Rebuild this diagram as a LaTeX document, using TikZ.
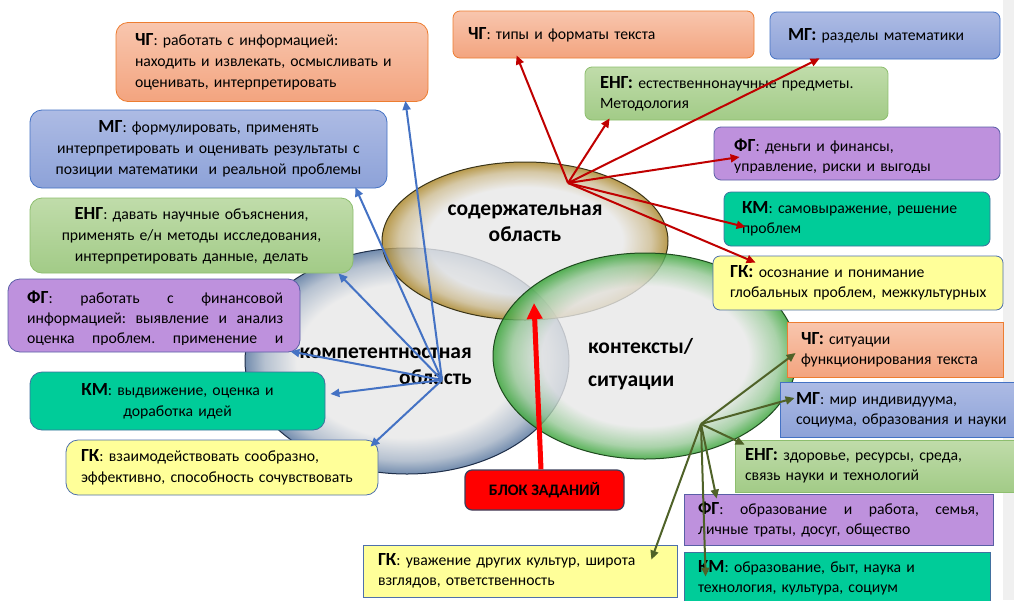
\documentclass[tikz,border=0pt]{standalone}
\usepackage{fontspec}
\setmainfont{Carlito}
\usetikzlibrary{arrows.meta,shapes.geometric}

\definecolor{orTop}{HTML}{F8C6AE}
\definecolor{orBot}{HTML}{F3A47F}
\definecolor{orLine}{HTML}{ED7D31}
\definecolor{blTop}{HTML}{ADBBE4}
\definecolor{blBot}{HTML}{8DA2D8}
\definecolor{blLine}{HTML}{4472C4}
\definecolor{grTop}{HTML}{C0DCAA}
\definecolor{grBot}{HTML}{A2CB87}
\definecolor{grLine}{HTML}{8DBE6E}
\definecolor{puFill}{HTML}{BE91DD}
\definecolor{puLine}{HTML}{5A5FA6}
\definecolor{tlFill}{HTML}{00CC99}
\definecolor{tlLine}{HTML}{41709F}
\definecolor{ywFill}{HTML}{FFFF99}
\definecolor{ywLine}{HTML}{4E70AC}
\definecolor{blockRed}{HTML}{FF0000}
\definecolor{blockLine}{HTML}{3B3F5C}
\definecolor{arBlue}{HTML}{4472C4}
\definecolor{arRed}{HTML}{C00000}
\definecolor{arGreen}{HTML}{4F6228}
\definecolor{bigRed}{HTML}{FF0000}
\definecolor{ellIn}{HTML}{E8E8E8}
\definecolor{goldEdge}{HTML}{A88222}
\definecolor{blueEdge}{HTML}{50709A}
\definecolor{greenEdge}{HTML}{30A030}
\definecolor{goldLine}{HTML}{3A3418}
\definecolor{blueLine}{HTML}{1F2F4A}
\definecolor{greenLine}{HTML}{1F4A1F}
\definecolor{bandGray}{HTML}{F0F0F0}
\colorlet{goldMid}{ellIn!55!goldEdge}
\colorlet{blueMid}{ellIn!55!blueEdge}
\colorlet{greenMid}{ellIn!55!greenEdge}

\pgfdeclareradialshading{goldell}{\pgfpoint{0bp}{0bp}}{color(0bp)=(ellIn); color(17bp)=(ellIn); color(22bp)=(goldMid); color(25bp)=(goldEdge); color(50bp)=(goldEdge)}
\pgfdeclareradialshading{blueell}{\pgfpoint{0bp}{0bp}}{color(0bp)=(ellIn); color(17bp)=(ellIn); color(22bp)=(blueMid); color(25bp)=(blueEdge); color(50bp)=(blueEdge)}
\pgfdeclareradialshading{greenell}{\pgfpoint{0bp}{0bp}}{color(0bp)=(ellIn); color(17bp)=(ellIn); color(22bp)=(greenMid); color(25bp)=(greenEdge); color(50bp)=(greenEdge)}

\newcommand\grp[1]{{\fontsize{18.5}{20}\selectfont\bfseries #1}}

\begin{document}
\begin{tikzpicture}[
    x=1pt, y=-1pt,
    every node/.style={inner sep=0pt},
    box/.style={draw, line width=0.8pt, align=left, font=\fontsize{15.7}{20}\selectfont},
    lbox/.style={box, rounded corners=12pt, font=\fontsize{15.7}{21}\selectfont},
    tbox/.style={box, rounded corners=7pt},
    orbox/.style={top color=orTop, bottom color=orBot, draw=orLine},
    blbox/.style={top color=blTop, bottom color=blBot, draw=blLine},
    grbox/.style={top color=grTop, bottom color=grBot, draw=grLine},
    pubox/.style={fill=puFill, draw=puLine},
    tlbox/.style={fill=tlFill, draw=tlLine},
    ywbox/.style={fill=ywFill, draw=ywLine},
    area/.style={ellipse, draw=#1, line width=1pt, fill opacity=0.8},
    arealabel/.style={font=\fontsize{21.5}{26}\selectfont\bfseries},
    arr/.style={-{Triangle[length=9pt,width=8pt]}, line width=2pt},
    bluearr/.style={arr, draw=arBlue},
    redarr/.style={arr, draw=arRed},
    greenarr/.style={arr, draw=arGreen}
  ]
  \useasboundingbox (0,0) rectangle (1014,600);
  \fill[white] (0,0) rectangle (1014,600);
  \fill[bandGray] (1003,0) rectangle (1014,600);

  % the three areas
  \node[area=blueLine, shade, shading=blueell, minimum width=324pt, minimum height=226pt] (compet) at (407,361) {};
  \node[area=goldLine, shade, shading=goldell, minimum width=286pt, minimum height=158pt] (content) at (525,241) {};
  \node[area=greenLine, shade, shading=greenell, minimum width=304pt, minimum height=206pt] (context) at (645,356) {};

  \node[arealabel, align=center] (contentlbl) at (525,223) {содержательная\\область};
  \node[arealabel, align=right, anchor=east] (competlbl) at (472,366) {компетентностная\\область};
  \node[font=\fontsize{21.5}{33}\selectfont\bfseries, align=left, anchor=west] (contextlbl) at (588,364) {контексты/\\ситуации};

  % competences
  \node[lbox, orbox, minimum width=312pt, minimum height=79pt, text width=274pt] (chgL) at (272,62)
    {\grp{ЧГ}: работать с информацией:\\\mbox{находить и извлекать, осмысливать и}\\оценивать, интерпретировать};
  \node[lbox, blbox, minimum width=357pt, minimum height=78pt, align=center, text width=340pt] (mgL) at (208.5,149)
    {\grp{МГ}: формулировать, применять\\интерпретировать и оценивать результаты с\\позиции математики \ и реальной проблемы};
  \node[lbox, grbox, minimum width=323pt, minimum height=75pt, align=center, text width=300pt] (engL) at (191.5,235.5)
    {\grp{ЕНГ}: давать научные объяснения,\\применять е/н методы исследования,\\интерпретировать данные, делать};
  \node[lbox, pubox, minimum width=292pt, minimum height=73pt] (fgL) at (154,315.5) {};
  \begin{scope}
    \clip (fgL.north west) rectangle ([yshift=8pt]fgL.south east);
    \node[font=\fontsize{15.7}{20}\selectfont, align=left, text width=256pt, anchor=north west] (fgLtext) at (27,291)
      {\makebox[256pt]{\grp{ФГ}:\hfill работать\hfill с\hfill финансовой}\\
       \makebox[256pt]{информацией:\hfill выявление\hfill и\hfill анализ}\\
       \makebox[256pt]{оценка\hfill проблем.\hfill применение\hfill и}};
  \end{scope}
  \node[lbox, tlbox, minimum width=295pt, minimum height=58pt, align=center, text width=270pt] (kmL) at (177.5,401)
    {\grp{КМ}: выдвижение, оценка и\\доработка идей};
  \node[lbox, ywbox, minimum width=312pt, minimum height=55pt, text width=282pt] (gkL) at (222,467.5)
    {\grp{ГК}: взаимодействовать сообразно,\\\mbox{эффективно, способность сочувствовать}};

  % content
  \node[tbox, orbox, minimum width=301pt, minimum height=47pt, text width=271pt] (chgT) at (603.5,34.5)
    {\grp{ЧГ}: типы и форматы текста};
  \node[tbox, blbox, minimum width=230pt, minimum height=47pt, text width=194pt] (mgT) at (885,35.5)
    {\mbox{\grp{МГ:} разделы математики}};
  \node[tbox, grbox, minimum width=303pt, minimum height=53pt, text width=273pt] (engT) at (736.5,93.5)
    {\mbox{\grp{ЕНГ:} естественнонаучные предметы.}\\Методология};
  \node[tbox, pubox, minimum width=286pt, minimum height=53pt] (fgR) at (857,153.5) {};
  \begin{scope}
    \clip (fgR.north west) rectangle ([yshift=8pt]fgR.south east);
    \node[font=\fontsize{15.7}{20}\selectfont, align=left, text width=250pt, anchor=north west] (fgRtext) at (734,139)
      {\grp{ФГ}: деньги и финансы,\\управление, риски и выгоды};
  \end{scope}
  \node[tbox, tlbox, minimum width=266pt, minimum height=54pt, text width=230pt] (kmR) at (857,219)
    {\mbox{\grp{КМ}: самовыражение, решение}\\проблем};
  \node[tbox, ywbox, minimum width=290pt, minimum height=54pt, text width=256pt] (gkR) at (858,283)
    {\grp{ГК:} осознание и понимание\\\mbox{глобальных проблем, межкультурных}};

  % contexts
  \node[box, orbox, minimum width=216pt, minimum height=55pt, text width=188pt] (chgR) at (895,349.5)
    {\grp{ЧГ:} ситуации\\\mbox{функционирования текста}};
  \node[box, blbox, minimum width=234pt, minimum height=55pt, text width=202pt] (mgR) at (897,409.5)
    {\grp{МГ}: мир индивидуума,\\\mbox{социума, образования и науки}};
  \node[box, grbox, minimum width=279pt, minimum height=52pt, text width=259pt] (engR) at (874.5,466)
    {\mbox{\grp{ЕНГ:} здоровье, ресурсы, среда,}\\связь науки и технологий};
  \node[box, pubox, minimum width=309pt, minimum height=51pt, text width=281pt] (fgB) at (838.5,519.5)
    {\makebox[281pt]{\grp{ФГ}:\hfill образование\hfill и\hfill работа,\hfill семья,}\\личные траты, досуг, общество};
  \node[box, tlbox, minimum width=306pt, minimum height=52pt, text width=278pt] (kmB) at (837,578)
    {\grp{КМ}: образование, быт, наука и\\технология, культура, социум};
  \node[box, ywbox, minimum width=314pt, minimum height=52pt, text width=284pt] (gkB) at (520,571)
    {\mbox{\grp{ГК}: уважение других культур, широта}\\взглядов, ответственность};

  \node[box, rounded corners=7pt, fill=blockRed, draw=blockLine, line width=1.2pt, align=center,
        minimum width=159pt, minimum height=40pt, font=\fontsize{16}{18}\selectfont\bfseries] (tasks) at (544.5,490)
    {БЛОК ЗАДАНИЙ};

  \coordinate (compethub) at (442,380);
  \coordinate (contenthub) at (568,183);
  \coordinate (contexthub) at (701,424);
  \coordinate (core) at (534,303);

  \draw[bluearr] (compethub) -- ([shift={(-23,-1)}]chgL.south east);
  \draw[bluearr] (compethub) -- ([shift={(-32,-1)}]mgL.south east);
  \draw[bluearr] (compethub) -- ([shift={(-15,0)}]engL.south east);
  \draw[bluearr] (compethub) -- ([shift={(-10,-1)}]fgL.south east);
  \draw[bluearr] (compethub) -- ([shift={(5,-7)}]kmL.east);
  \draw[bluearr] (compethub) -- ([shift={(-8,7)}]gkL.north east);

  \draw[redarr] (contenthub) -- ([shift={(64,-3)}]chgT.south west);
  \draw[redarr] (contenthub) -- ([shift={(25,-2)}]engT.south west);
  \draw[redarr] (contenthub) -- ([shift={(50,-1)}]mgT.south west);
  \draw[redarr] (contenthub) -- ([shift={(26,3.5)}]fgR.west);
  \draw[redarr] (contenthub) -- ([shift={(22,8)}]kmR.west);
  \draw[redarr] (contenthub) -- ([shift={(43,7)}]gkR.north west);

  \draw[greenarr] (contexthub) -- ([shift={(9,3.5)}]chgR.west);
  \draw[greenarr] (contexthub) -- ([shift={(15,-11.5)}]mgR.west);
  \draw[greenarr] (contexthub) -- ([shift={(10,5)}]engR.north west);
  \draw[greenarr] (contexthub) -- ([shift={(33,5)}]fgB.north west);
  \draw[greenarr] (contexthub) -- ([shift={(22,25)}]kmB.north west);
  \draw[greenarr] (contexthub) -- ([shift={(-26,15)}]gkB.north east);

  \draw[line width=5pt, draw=bigRed, -{Triangle[length=16pt,width=15pt]}] ([xshift=-3.5pt]tasks.north) -- (core);
\end{tikzpicture}
\end{document}
